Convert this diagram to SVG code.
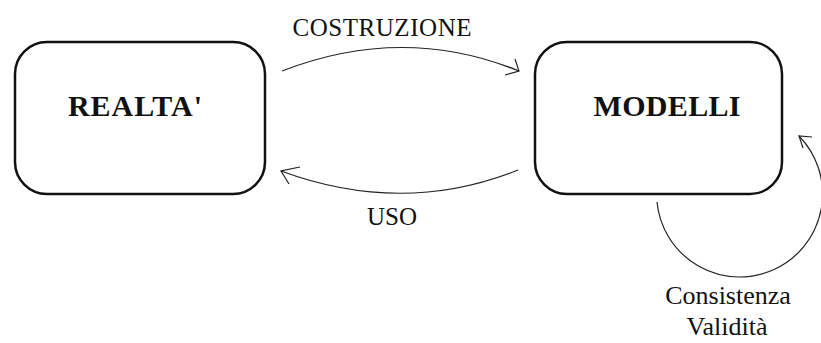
<svg xmlns="http://www.w3.org/2000/svg" width="821" height="343" viewBox="0 0 821 343">
<style>
.box{fill:#fff;stroke:#111;stroke-width:2.5}
.title{font-family:"Liberation Serif",serif;font-weight:bold;font-size:30px;fill:#111;text-anchor:middle}
.lbl{font-family:"Liberation Serif",serif;font-size:25px;fill:#111;text-anchor:middle}
.lbl2{font-family:"Liberation Serif",serif;font-size:26px;fill:#111;text-anchor:middle}
.edge{fill:none;stroke:#222;stroke-width:1.2}
</style>
<rect width="821" height="343" fill="#fff"/>
<g id="realta">
<rect class="box" x="15" y="42" width="250" height="152" rx="32" ry="32"/>
<text class="title" x="135" y="116" textLength="134">REALTA'</text>
</g>
<g id="modelli">
<rect class="box" x="535" y="42" width="247" height="152" rx="32" ry="32"/>
<text class="title" x="667" y="116" textLength="147">MODELLI</text>
</g>
<g id="connectors">
<path class="edge" d="M282,71 Q403,24 519,71"/>
<path class="edge" d="M515,59 L519,71 L505,75"/>
<path class="edge" d="M518,170 Q403,216 281,171"/>
<path class="edge" d="M300,167 L281,171 L289,184"/>
<path class="edge" d="M657,202 A83,83 0 1 0 799,136"/>
<path class="edge" d="M812,137 L799,136 L803,148"/>
</g>
<g id="labels">
<text class="lbl" x="382" y="36" textLength="179">COSTRUZIONE</text>
<text class="lbl" x="392" y="225">USO</text>
<text class="lbl2" x="728" y="304">Consistenza</text>
<text class="lbl2" x="727" y="335">Validità</text>
</g>
</svg>
